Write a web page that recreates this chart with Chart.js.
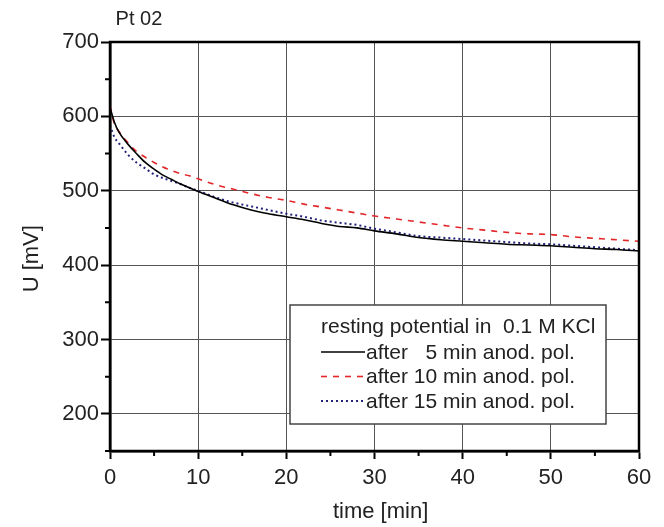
<!DOCTYPE html>
<html>
<head>
<meta charset="utf-8">
<script src="https://cdn.jsdelivr.net/npm/chart.js@4/dist/chart.umd.min.js"></script>
<style>
    html, body { margin: 0; padding: 0; background: #fff; }
    #chart { display: block; }
</style>
</head>
<body>
<canvas id="chart" width="664" height="527"></canvas>
<script>
'use strict';

// time in minutes
const times = [0, 0.5, 1, 2, 3, 4, 5, 6, 7, 8, 9, 10, 12, 14, 16, 18, 20, 22, 24, 26, 28, 30,
    32.5, 35, 37.5, 40, 42.5, 45, 47.5, 50, 52.5, 55, 57.5, 60];

// resting potential U [mV]
const after5 = [612, 592, 579, 563, 550, 538, 529, 521, 515, 509, 504, 499, 490, 481, 474, 469, 465, 461, 456, 452, 450, 446,
    442, 437, 434, 432, 430, 428, 427, 426, 424, 422, 421, 419];
const after10 = [614, 590, 580, 565, 553, 545, 538, 532, 527, 523, 520, 516, 508, 502, 496, 491, 487, 482, 478, 474, 470, 466,
    462, 458, 454, 450, 447, 444, 442, 441, 438, 436, 434, 432];
const after15 = [588, 572, 564, 549, 538, 530, 522, 517, 513, 509, 504, 500, 491, 484, 479, 474, 469, 465, 460, 457, 454, 449,
    444, 439, 437, 435, 433, 431, 429, 428, 426, 424, 422, 420];

const seriesLabels = ['after   5 min anod. pol.', 'after 10 min anod. pol.', 'after 15 min anod. pol.'];
const legendTitle = 'resting potential in  0.1 M KCl';

const xTickLabels = [0, 10, 20, 30, 40, 50, 60];
const xMinorTicks = [5, 15, 25, 35, 45, 55];
const yTickLabels = [200, 300, 400, 500, 600, 700];
const yMinorTicks = [150, 250, 350, 450, 550, 650];

const FONT = '"Liberation Sans", Arial, Helvetica, sans-serif';
Chart.defaults.font.family = FONT;
Chart.defaults.color = '#222';

function points(values) {
    return times.map((t, i) => ({ x: t, y: values[i] }));
}

/**
 * Frame, minor ticks and the boxed legend
 */
const framePlugin = {
    id: 'frame',
    afterDraw: function (chart) {
        const ctx = chart.ctx;
        const a = chart.chartArea;
        const sx = chart.scales.x;
        const sy = chart.scales.y;

        ctx.save();
        ctx.strokeStyle = '#000';
        ctx.lineWidth = 2;
        ctx.beginPath();
        xMinorTicks.forEach((v) => {
            const x = sx.getPixelForValue(v);
            ctx.moveTo(x, a.bottom);
            ctx.lineTo(x, a.bottom + 5);
        });
        yMinorTicks.forEach((v) => {
            const y = sy.getPixelForValue(v);
            ctx.moveTo(a.left - 5, y);
            ctx.lineTo(a.left, y);
        });
        ctx.stroke();

        ctx.lineWidth = 2.5;
        ctx.strokeRect(a.left, a.top, a.right - a.left, a.bottom - a.top);

        // legend box
        const bx = a.left + 180;
        const by = a.top + 263;
        ctx.fillStyle = '#fff';
        ctx.fillRect(bx, by, 316, 119);
        ctx.strokeStyle = '#444';
        ctx.lineWidth = 1.5;
        ctx.strokeRect(bx, by, 316, 119);

        ctx.font = '21px ' + FONT;
        ctx.fillStyle = '#222';
        ctx.textBaseline = 'middle';
        ctx.textAlign = 'left';
        ctx.fillText(legendTitle, bx + 31, by + 22);

        chart.data.datasets.forEach((ds, i) => {
            const y = by + 47 + i * 24.5;
            ctx.strokeStyle = ds.borderColor;
            ctx.lineWidth = ds.borderWidth;
            ctx.setLineDash(ds.borderDash || []);
            ctx.beginPath();
            ctx.moveTo(bx + 31, y);
            ctx.lineTo(bx + 75, y);
            ctx.stroke();
            ctx.setLineDash([]);
            ctx.fillText(ds.label, bx + 76, y + 1);
        });
        ctx.restore();
    }
};

const ctx = document.getElementById('chart').getContext('2d');
const chart = new Chart(ctx, {
    type: 'line',
    data: {
        datasets: [{
            label: seriesLabels[0],
            data: points(after5),
            borderColor: '#000000',
            borderWidth: 1.6,
            order: 0
        }, {
            label: seriesLabels[1],
            data: points(after10),
            borderColor: '#e3262a',
            borderWidth: 1.6,
            borderDash: [6, 6],
            order: 2
        }, {
            label: seriesLabels[2],
            data: points(after15),
            borderColor: '#22227a',
            borderWidth: 2,
            borderDash: [2, 3],
            order: 1
        }]
    },
    options: {
        responsive: false,
        animation: false,
        events: [],
        layout: { padding: { left: 0, right: 25, top: 0, bottom: 0 } },
        elements: {
            point: { radius: 0 },
            line: { cubicInterpolationMode: 'monotone', fill: false }
        },
        plugins: {
            legend: { display: false },
            tooltip: { enabled: false },
            title: {
                display: true,
                text: ' Pt 02',
                align: 'start',
                fullSize: false,
                color: '#222',
                font: { size: 20, weight: 'normal' },
                padding: { top: 7, bottom: 11 }
            }
        },
        scales: {
            x: {
                type: 'linear',
                min: 0,
                max: 60,
                afterFit: function (scale) { scale.height = 76; },
                ticks: {
                    stepSize: 5,
                    maxRotation: 0,
                    padding: 6,
                    font: { size: 22 },
                    color: '#222',
                    callback: function (value) {
                        return xTickLabels.includes(value) ? String(value) : '';
                    }
                },
                grid: {
                    tickLength: 8,
                    lineWidth: 1,
                    tickWidth: 2,
                    color: (c) => (c.tick && xTickLabels.includes(c.tick.value) ? '#555' : 'rgba(0,0,0,0)'),
                    tickColor: (c) => (c.tick && xTickLabels.includes(c.tick.value) ? '#000' : 'rgba(0,0,0,0)')
                },
                border: { color: '#000', width: 2.5 },
                title: {
                    display: true,
                    text: '  time [min]',
                    font: { size: 22 },
                    color: '#222',
                    padding: { top: 0, bottom: 2 }
                }
            },
            y: {
                min: 150,
                max: 700,
                afterFit: function (scale) { scale.width = 110; },
                ticks: {
                    stepSize: 50,
                    padding: 2,
                    font: { size: 22 },
                    color: '#222',
                    callback: function (value) {
                        return yTickLabels.includes(value) ? String(value) : '';
                    }
                },
                grid: {
                    tickLength: 9,
                    lineWidth: 1,
                    tickWidth: 2,
                    color: (c) => (c.tick && yTickLabels.includes(c.tick.value) ? '#555' : 'rgba(0,0,0,0)'),
                    tickColor: (c) => (c.tick && yTickLabels.includes(c.tick.value) ? '#000' : 'rgba(0,0,0,0)')
                },
                border: { color: '#000', width: 2.5 },
                title: {
                    display: true,
                    text: 'U [mV]    ',
                    font: { size: 22 },
                    color: '#222',
                    padding: { top: 19, bottom: 0 }
                }
            }
        }
    },
    plugins: [framePlugin]
});
</script>
</body>
</html>
